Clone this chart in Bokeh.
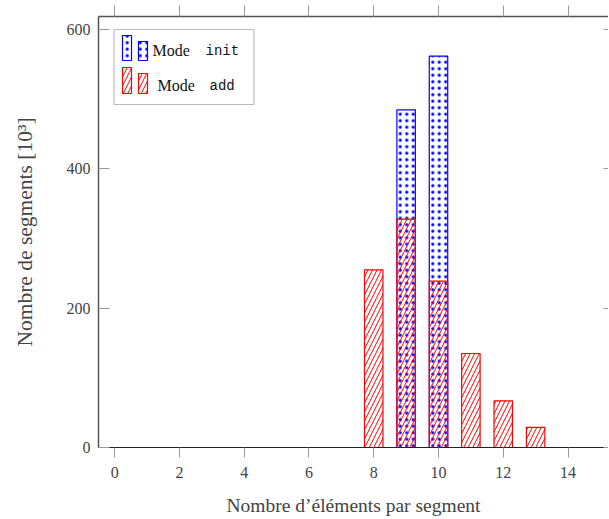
from bokeh.plotting import figure
from bokeh.models import (ColumnDataSource, Range1d, LinearAxis, FixedTicker,
                          BoxAnnotation, Label)
from bokeh.embed import file_html
from bokeh.resources import INLINE

# ---- data ----
init_x = [9, 10]
init_counts = [485, 562]          # Mode init, 10^3 segments
add_x = list(range(0, 16))
add_counts = [0, 0, 0, 0, 0, 0, 0, 0, 255, 328, 239, 135, 67, 29, 0, 0]  # Mode add
x_ticks = [0, 2, 4, 6, 8, 10, 12, 14]
y_ticks = [0, 200, 400, 600]
x_title = "Nombre d\u2019\u00e9l\u00e9ments par segment"
y_title = "Nombre de segments [10\u00b3]"

SERIF = "Liberation Serif"
MONO = "Liberation Mono"
BLUE = "#0000ff"
RED = "#ff0000"

p = figure(output_backend="svg", toolbar_location=None,
           x_range=Range1d(-0.5, 15.25), y_range=Range1d(0, 619),
           x_axis_location=None, y_axis_location=None,
           frame_width=510, frame_height=431,
           min_border_left=98, min_border_right=0, min_border_top=16,
           min_border_bottom=73)
p.outline_line_color = None
p.grid.visible = False
p.background_fill_color = "white"

bar_w = 0.57
src_init = ColumnDataSource(dict(x=init_x, top=init_counts))
src_add = ColumnDataSource(dict(x=add_x, top=add_counts))

p.vbar(x="x", top="top", bottom=0, width=bar_w, source=src_init,
       fill_color="white", line_color=BLUE, line_width=1.2,
       hatch_pattern=".", hatch_color=BLUE, hatch_scale=6.5, hatch_weight=2.2)
p.vbar(x="x", top="top", bottom=0, width=bar_w, source=src_add,
       fill_alpha=0, line_color=RED, line_width=1.2,
       hatch_pattern="/", hatch_color=RED, hatch_scale=9, hatch_weight=1)

TICK_C = "#999999"
AX_C = "#555555"

# bottom axis
xb = LinearAxis(ticker=FixedTicker(ticks=x_ticks), axis_label=x_title)
xb.axis_line_color = "#222222"
xb.major_tick_line_color = TICK_C
xb.major_tick_out = 10
xb.major_tick_in = 0
xb.minor_tick_line_color = None
xb.major_label_text_font = SERIF
xb.major_label_text_font_size = "16px"
xb.major_label_standoff = 9
xb.axis_label_text_font = SERIF
xb.axis_label_text_font_size = "19.5px"
xb.axis_label_text_font_style = "normal"
xb.axis_label_standoff = 14
p.add_layout(xb, "below")

# top axis (ticks only)
xt = LinearAxis(ticker=FixedTicker(ticks=x_ticks))
xt.axis_line_color = AX_C
xt.axis_line_width = 1.5
xt.major_tick_line_color = TICK_C
xt.major_tick_out = 11
xt.major_tick_in = 0
xt.minor_tick_line_color = None
xt.major_label_text_font_size = "0px"
xt.major_label_text_color = None
xt.major_label_standoff = 0
p.add_layout(xt, "above")

# left axis
yl = LinearAxis(ticker=FixedTicker(ticks=y_ticks), axis_label=y_title)
yl.axis_line_color = AX_C
yl.axis_line_width = 1.5
yl.major_tick_line_color = TICK_C
yl.major_tick_out = 0
yl.major_tick_in = 11
yl.minor_tick_line_color = None
yl.major_label_text_font = SERIF
yl.major_label_text_font_size = "16px"
yl.major_label_standoff = 8
yl.axis_label_text_font = SERIF
yl.axis_label_text_font_size = "21.5px"
yl.axis_label_text_font_style = "normal"
yl.axis_label_standoff = 27
p.add_layout(yl, "left")

# right axis (inward ticks only)
yr = LinearAxis(ticker=FixedTicker(ticks=y_ticks))
yr.axis_line_color = None
yr.major_tick_line_color = TICK_C
yr.major_tick_out = 0
yr.major_tick_in = 5
yr.minor_tick_line_color = None
yr.major_label_text_font_size = "0px"
yr.major_label_text_color = None
p.add_layout(yr, "right")

# ---- legend drawn in screen units, measured from the frame bottom-left ----
FB = 446  # picture y of frame bottom
FL = 99   # picture x of frame left
def sx(px):
    return px - FL
def sy(py):
    return FB - py

p.add_layout(BoxAnnotation(left=sx(114.5), right=sx(254.5), top=sy(28), bottom=sy(103),
                           left_units="screen", right_units="screen",
                           top_units="screen", bottom_units="screen",
                           fill_color="white", fill_alpha=1,
                           line_color="#222222", line_width=1.2))

def patch(l, r, t, b, color, pattern, scale, weight):
    p.add_layout(BoxAnnotation(left=sx(l), right=sx(r), top=sy(t), bottom=sy(b),
                               left_units="screen", right_units="screen",
                               top_units="screen", bottom_units="screen",
                               fill_color="white", fill_alpha=1,
                               line_color=color, line_width=1.2, line_alpha=1,
                               hatch_pattern=pattern, hatch_color=color,
                               hatch_scale=scale, hatch_weight=weight))

patch(123, 132, 34, 59, BLUE, ".", 6.5, 2.2)
patch(139, 148, 40, 59, BLUE, ".", 6.5, 2.2)
patch(123, 132, 66, 92, RED, "/", 9, 1)
patch(139, 148, 72, 92, RED, "/", 9, 1)

def lab(px, py, text, font, size):
    p.add_layout(Label(x=sx(px), y=sy(py), x_units="screen", y_units="screen",
                       text=text, text_font=font, text_font_size=size,
                       text_baseline="middle", text_align="left",
                       text_color="#111111"))

lab(153, 49, "Mode", SERIF, "16px")
lab(206, 49, "init", MONO, "14px")
lab(158, 84, "Mode", SERIF, "16px")
lab(210, 84, "add", MONO, "14px")

open("out.html", "w").write(file_html(p, INLINE))
